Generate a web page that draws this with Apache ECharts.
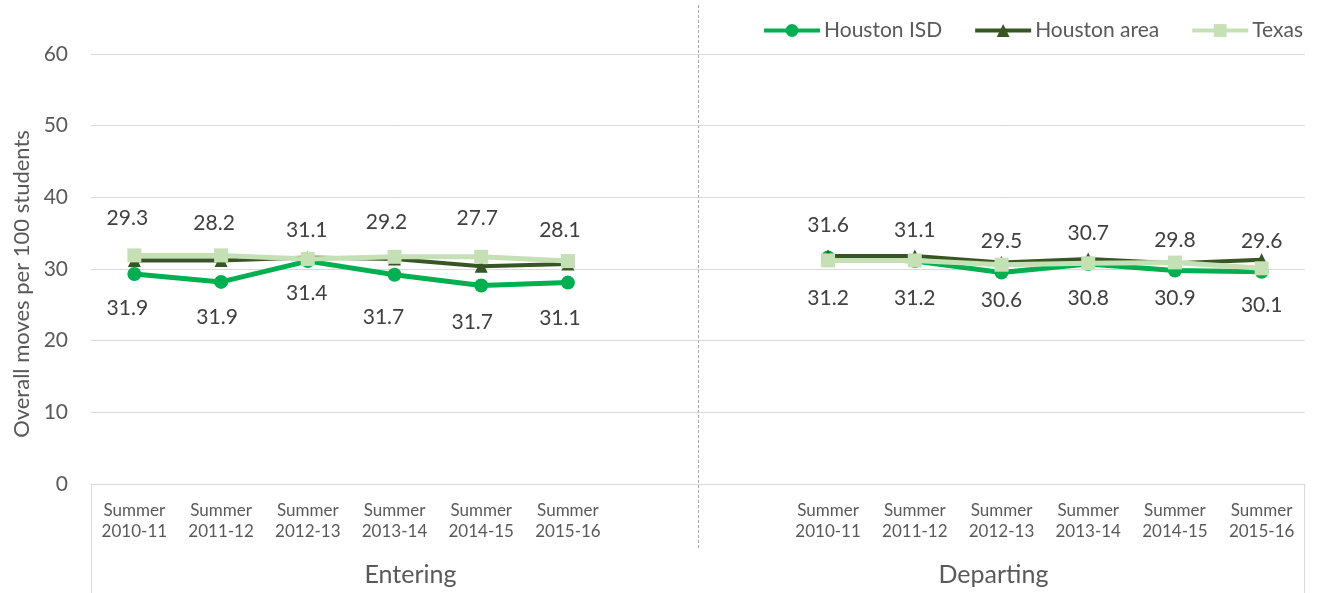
<!DOCTYPE html>
<html><head><meta charset="utf-8">
<script src="https://cdn.jsdelivr.net/npm/echarts@6/dist/echarts.min.js"></script>
<style>html,body{margin:0;padding:0;background:#fff}#c{width:1324px;height:593px}</style>
</head><body><div id="c"></div>
<script>
// ---- data ----
const periods = ['Summer\n2010-11','Summer\n2011-12','Summer\n2012-13','Summer\n2013-14','Summer\n2014-15','Summer\n2015-16'];
const groups = ['Entering','Departing'];
const isdEntering = [29.3, 28.2, 31.1, 29.2, 27.7, 28.1];
const isdDeparting = [31.6, 31.1, 29.5, 30.7, 29.8, 29.6];
const areaEntering = [31.2, 31.2, 31.6, 31.4, 30.4, 30.7];
const areaDeparting = [31.8, 31.8, 30.9, 31.4, 30.8, 31.3];
const texasEntering = [31.9, 31.9, 31.4, 31.7, 31.7, 31.1];
const texasDeparting = [31.2, 31.2, 30.6, 30.8, 30.9, 30.1];
const yTicks = {min: 0, max: 60, interval: 10};

// ---- label placement (style) ----
const isdLabelDy = [-56,-59,-31,-52,-67,-52, 0,0, -32,-31,-31,-31,-30,-31];
const isdLabelDx = [-7,-7,-1,-8,-4,-8, 0,0, 0,0,0,0,0,0];
const texLabelDy = [53,62,34,60,65,57, 0,0, 38,38,36,35,36,37];
const texLabelDx = [-7,-4,-1,-11,-9,-8, 0,0, 0,0,0,0,0,0];

// 14 slots: 6 entering + blank | blank + 6 departing
const cats = periods.concat(['', '']).concat(periods);
const cats2 = periods.map((p,i)=>'E'+i).concat(['gapE','gapD']).concat(periods.map((p,i)=>'D'+i));
function combine(a, b){ return a.concat(['-','-']).concat(b); }

const C_ISD = '#00b050', C_AREA = '#375623', C_TEX = '#c5e0b4';
const FONT = 'Lato, "Open Sans", sans-serif';

function withLabels(vals, dy, dx){
  return vals.map((v,i)=> v==='-' ? '-' : {value: v, label: {offset: [dx[i], dy[i]]}});
}

const chart = echarts.init(document.getElementById('c'));
const L = 91, R = 1305, T = 54, B = 484;
const option = {
  animation: false,
  textStyle: {fontFamily: FONT},
  grid: {left: L, right: 1324 - R, top: T, bottom: 593 - B},
  legend: {
    right: 16, top: 15, itemWidth: 56, itemHeight: 16, itemGap: 31,
    lineStyle: {width: 4},
    textStyle: {fontSize: 21, color: '#595959', fontFamily: FONT, padding: [0,0,0,-1]},
    data: ['Houston ISD','Houston area','Texas']
  },
  xAxis: [{
    type: 'category', data: cats2,
    boundaryGap: true,
    axisLine: {show: true, lineStyle: {color: '#d9d9d9', width: 1}},
    axisTick: {show: false},
    axisLabel: {interval: 0, margin: 16, fontSize: 17, lineHeight: 21, color: '#595959',
      formatter: (v, i) => cats[i]}
  },{
    type: 'category', data: groups, position: 'bottom', boundaryGap: true,
    axisLine: {show: false}, axisTick: {show: false},
    axisLabel: {margin: 78, fontSize: 25, color: '#595959',
      formatter: v => v === 'Entering' ? '{e|' + v + '}' : '{d|' + v + '}',
      rich: {e: {fontSize: 25, color: '#595959', padding: [0,0,0,32]},
             d: {fontSize: 25, color: '#595959', padding: [0,16,0,0]}}}
  }],
  yAxis: {
    type: 'value', min: yTicks.min, max: yTicks.max, interval: yTicks.interval,
    name: 'Overall moves per 100 students', nameLocation: 'middle', nameGap: 56,
    nameTextStyle: {fontSize: 22, color: '#595959', padding: [0, 30, 0, 0]},
    axisLine: {show: false}, axisTick: {show: false},
    axisLabel: {fontSize: 21, color: '#595959', margin: 23},
    splitLine: {lineStyle: {color: '#d9d9d9', width: 1}}
  },
  series: [{
    name: 'Houston ISD', type: 'line', xAxisIndex: 0,
    data: withLabels(combine(isdEntering, isdDeparting), isdLabelDy, isdLabelDx),
    symbol: 'circle', symbolSize: 14, connectNulls: false,
    lineStyle: {color: C_ISD, width: 5}, itemStyle: {color: C_ISD},
    label: {show: true, position: 'inside', fontSize: 21, color: '#404040', fontFamily: FONT},
    z: 2
  },{
    name: 'Houston area', type: 'line', xAxisIndex: 0,
    data: combine(areaEntering, areaDeparting),
    symbol: 'triangle', symbolSize: 13, connectNulls: false,
    lineStyle: {color: C_AREA, width: 4}, itemStyle: {color: C_AREA},
    z: 3
  },{
    name: 'Texas', type: 'line', xAxisIndex: 0,
    data: withLabels(combine(texasEntering, texasDeparting), texLabelDy, texLabelDx),
    symbol: 'rect', symbolSize: 14, connectNulls: false,
    lineStyle: {color: C_TEX, width: 5}, itemStyle: {color: C_TEX},
    label: {show: true, position: 'inside', fontSize: 21, color: '#404040', fontFamily: FONT},
    z: 4
  }],
  graphic: []
};
chart.setOption(option);

// decorative frame lines of the multi-level category axis
const mid = (chart.convertToPixel({xAxisIndex: 0}, cats2[6]) + chart.convertToPixel({xAxisIndex: 0}, cats2[7])) / 2;
chart.setOption({graphic: [
  {type: 'line', shape: {x1: L + 0.5, y1: B, x2: L + 0.5, y2: 593}, style: {stroke: '#d9d9d9', lineWidth: 1}},
  {type: 'line', shape: {x1: R - 0.5, y1: B, x2: R - 0.5, y2: 593}, style: {stroke: '#d9d9d9', lineWidth: 1}},
  {type: 'line', shape: {x1: Math.round(mid) + 0.5, y1: 5, x2: Math.round(mid) + 0.5, y2: 548}, style: {stroke: '#a6a6a6', lineWidth: 1, lineDash: [3, 2]}}
]});
</script></body></html>
